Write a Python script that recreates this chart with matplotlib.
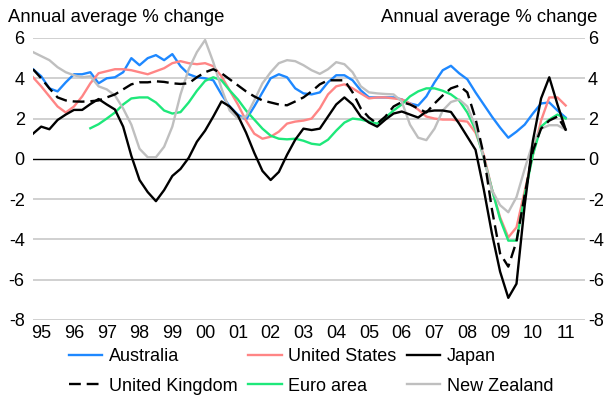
import matplotlib

matplotlib.use('Agg')
import matplotlib.pyplot as plt

plt.rcParams['font.family'] = ['Liberation Sans', 'DejaVu Sans']

# quarterly series, first observation 1994 Q4
start_year = 1994.75

australia = [4.45, 4.1, 3.5, 3.35, 3.8, 4.2, 4.2, 4.3, 3.75, 4.0,
             4.05, 4.3, 5.0, 4.65, 5.0, 5.15, 4.9, 5.2, 4.6, 4.2,
             4.05, 4.0, 3.9, 3.2, 2.6, 2.2, 1.95, 2.6, 3.3, 4.0,
             4.2, 4.05, 3.5, 3.25, 3.2, 3.3, 3.8, 4.15, 4.15, 3.9,
             3.4, 3.05, 3.05, 3.05, 3.05, 2.95, 2.75, 2.65, 3.1, 3.8,
             4.4, 4.62, 4.25, 3.95, 3.3, 2.7, 2.1, 1.55, 1.05, 1.35,
             1.7, 2.25, 2.75, 2.8, 2.4, 2.05]
united_states = [4.05, 3.6, 3.1, 2.6, 2.3, 2.6, 3.1, 3.75, 4.25, 4.35,
                 4.45, 4.45, 4.4, 4.3, 4.2, 4.35, 4.5, 4.75, 4.85, 4.75,
                 4.7, 4.75, 4.6, 4.1, 3.4, 2.7, 1.9, 1.25, 1.0, 1.1,
                 1.35, 1.75, 1.85, 1.9, 2.0, 2.5, 3.2, 3.6, 3.7, 3.5,
                 3.25, 3.0, 3.05, 3.05, 3.0, 2.95, 2.75, 2.45, 2.1, 2.0,
                 1.95, 1.95, 1.9, 1.85, 1.3, 0.2, -1.5, -2.9, -3.9, -3.4,
                 -1.6, 0.2, 1.9, 3.05, 3.05, 2.65]
japan = [1.25, 1.6, 1.47, 1.93, 2.2, 2.43, 2.43, 2.72, 2.97, 2.7,
         2.45, 1.6, 0.15, -1.05, -1.65, -2.1, -1.55, -0.85, -0.5, 0.05,
         0.85, 1.4, 2.1, 2.85, 2.6, 2.15, 1.3, 0.3, -0.6, -1.05,
         -0.65, 0.2, 0.95, 1.5, 1.43, 1.5, 2.1, 2.7, 3.05, 2.7,
         2.1, 1.8, 1.6, 1.95, 2.25, 2.35, 2.2, 2.05, 2.35, 2.4,
         2.4, 2.33, 1.75, 1.1, 0.45, -1.5, -3.7, -5.6, -6.9, -6.2,
         -2.3, 0.9, 3.0, 4.05, 2.7, 1.45]
united_kingdom = [4.45, 4.0, 3.5, 3.05, 2.9, 2.85, 2.84, 2.86, 2.9, 3.05,
                  3.2, 3.45, 3.7, 3.8, 3.8, 3.85, 3.82, 3.75, 3.72, 3.75,
                  4.05, 4.3, 4.45, 4.25, 3.95, 3.65, 3.35, 3.1, 2.9, 2.8,
                  2.7, 2.66, 2.85, 3.05, 3.35, 3.7, 3.9, 3.9, 3.9, 3.3,
                  2.5, 2.05, 1.75, 2.1, 2.6, 2.82, 2.7, 2.5, 2.3, 2.75,
                  3.15, 3.5, 3.64, 3.3, 2.0, 0.2, -2.5, -4.7, -5.35, -4.1,
                  -1.8, 0.4, 1.5, 1.9, 2.1, 1.45]
euro_area = [None] * 7 + [
             1.52, 1.72, 2.0, 2.3, 2.7, 3.0, 3.05, 3.05, 2.8, 2.4,
             2.25, 2.32, 2.8, 3.38, 3.87, 4.05, 3.9, 3.4, 2.95, 2.4,
             1.95, 1.5, 1.15, 1.0, 0.97, 1.0, 0.9, 0.75, 0.7, 0.95,
             1.4, 1.8, 2.0, 1.95, 1.85, 1.75, 2.05, 2.4, 2.7, 3.1,
             3.35, 3.5, 3.5, 3.38, 3.2, 2.9, 2.3, 1.45, 0.05, -1.5,
             -3.0, -4.06, -4.06, -1.8, 0.2, 1.6, 1.95, 2.2, 2.0]
new_zealand = [5.3, 5.1, 4.9, 4.55, 4.3, 4.15, 4.05, 4.1, 3.6, 3.45,
               3.15, 2.5, 1.7, 0.5, 0.08, 0.08, 0.6, 1.6, 3.2, 4.45,
               5.3, 5.9, 4.8, 3.5, 2.4, 2.0, 2.1, 2.9, 3.75, 4.3,
               4.75, 4.9, 4.85, 4.65, 4.4, 4.22, 4.45, 4.8, 4.7, 4.3,
               3.6, 3.3, 3.25, 3.22, 3.2, 2.85, 1.7, 1.05, 0.93, 1.5,
               2.4, 2.82, 2.95, 2.6, 1.6, 0.05, -1.55, -2.3, -2.65, -1.9,
               -0.5, 0.8, 1.5, 1.67, 1.67, 1.45]

years = list(range(1995, 2012))
year_labels = ['%02d' % (y % 100) for y in years]
y_ticks = [-8, -6, -4, -2, 0, 2, 4, 6]
unit_label = 'Annual average % change'

t = [start_year + i / 4 for i in range(len(australia))]
euro_t = [ti for ti, v in zip(t, euro_area) if v is not None]
euro_v = [v for v in euro_area if v is not None]

W, H = 607, 403
fig = plt.figure(figsize=(W / 100, H / 100), dpi=100)
ax = fig.add_axes([33 / W, 1 - 320 / H, 552 / W, 282 / H])

for y in y_ticks:
    if y != 0:
        ax.axhline(y, color='#c8c8c8', lw=1.2, zorder=1)
ax.axhline(0, color='black', lw=1.0, zorder=2)

lw = 1.7
l_aus, = ax.plot(t, australia, color='#1e88ff', lw=lw, label='Australia', zorder=3)
l_us, = ax.plot(t, united_states, color='#ff8585', lw=lw, label='United States', zorder=3)
l_eur, = ax.plot(euro_t, euro_v, color='#1ee87a', lw=lw, label='Euro area', zorder=3)
l_nz, = ax.plot(t, new_zealand, color='#bfbfbf', lw=lw, label='New Zealand', zorder=3)
l_jp, = ax.plot(t, japan, color='black', lw=lw, label='Japan', zorder=4)
l_uk, = ax.plot(t, united_kingdom, color='black', lw=lw, dashes=(5, 2.5),
                label='United Kingdom', zorder=4)

ax.set_xlim(start_year, 2011.59)
ax.set_ylim(-8, 6)
ax.set_xticks(years)
ax.set_xticklabels(year_labels)
ax.set_yticks(y_ticks)
ax.set_yticklabels([str(v) for v in y_ticks])
ax.tick_params(axis='x', length=0, pad=3.5, labelsize=13)
ax.tick_params(axis='y', length=0, pad=6, labelsize=13)
for s in ax.spines.values():
    s.set_visible(False)

# same scale repeated on the right-hand side
ax2 = ax.twinx()
ax2.set_ylim(-8, 6)
ax2.set_yticks(y_ticks)
ax2.set_yticklabels([str(v) for v in y_ticks])
ax2.tick_params(axis='y', length=0, pad=2, labelsize=13)
for s in ax2.spines.values():
    s.set_visible(False)

fig.text(8 / W, 1 - 22 / H, unit_label, fontsize=13.3, ha='left', va='baseline')
fig.text(597 / W, 1 - 22 / H, unit_label, fontsize=13.3, ha='right', va='baseline')

# legend fills column by column, so order handles to read across rows
handles = [l_aus, l_uk, l_us, l_eur, l_jp, l_nz]
fig.legend(handles=handles, labels=[h.get_label() for h in handles],
           ncol=3, loc='upper left', bbox_to_anchor=(69 / W, 1 - 348 / H),
           frameon=False, fontsize=13, borderpad=0, borderaxespad=0,
           handlelength=1.85, handletextpad=0.35, columnspacing=0.6,
           labelspacing=0.7)

plt.savefig('out.png', dpi=100)
